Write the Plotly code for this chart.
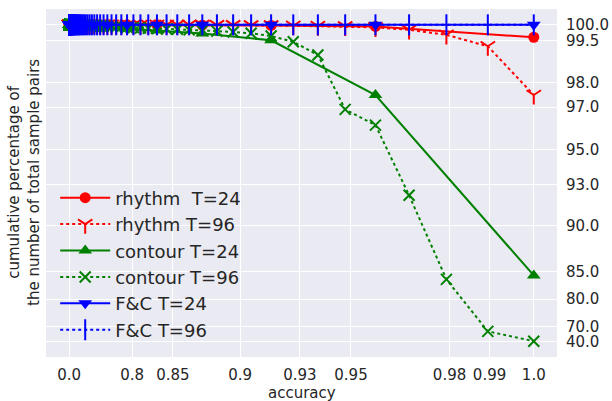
import numpy as np
import plotly.graph_objects as go

# ---------------- data ----------------
T_SHORT = 24
T_LONG = 96
acc_t24 = [k / T_SHORT for k in range(T_SHORT + 1)]
acc_t96 = [k / T_LONG for k in range(T_LONG + 1)]

rhythm_t24 = [100.0, 100.0, 100.0, 100.0, 100.0, 100.0, 100.0, 100.0, 100.0, 100.0,
              100.0, 100.0, 100.0, 100.0, 100.0, 100.0, 100.0, 100.0, 100.0, 100.0,
              100.0, 99.99, 99.98, 99.95, 99.6]

contour_t24 = [100.0, 100.0, 100.0, 100.0, 100.0, 100.0, 100.0, 100.0, 100.0, 100.0,
               100.0, 100.0, 100.0, 100.0, 100.0, 100.0, 99.98, 99.95, 99.92, 99.88,
               99.82, 99.72, 99.5, 97.5, 84.4]

fc_t24 = [100.0, 100.0, 100.0, 100.0, 100.0, 100.0, 100.0, 100.0, 100.0, 100.0,
          100.0, 100.0, 100.0, 100.0, 100.0, 100.0, 100.0, 100.0, 100.0, 100.0,
          100.0, 100.0, 100.0, 100.0, 100.0]

rhythm_t96 = [100.0, 100.0, 100.0, 100.0, 100.0, 100.0, 100.0, 100.0, 100.0, 100.0,
              100.0, 100.0, 100.0, 100.0, 100.0, 100.0, 100.0, 100.0, 100.0, 100.0,
              100.0, 100.0, 100.0, 100.0, 100.0, 100.0, 100.0, 100.0, 100.0, 100.0,
              100.0, 100.0, 100.0, 100.0, 100.0, 100.0, 100.0, 100.0, 100.0, 100.0,
              100.0, 100.0, 100.0, 100.0, 100.0, 100.0, 100.0, 100.0, 100.0, 100.0,
              100.0, 100.0, 100.0, 100.0, 100.0, 100.0, 100.0, 100.0, 100.0, 100.0,
              100.0, 100.0, 100.0, 100.0, 100.0, 100.0, 100.0, 100.0, 100.0, 100.0,
              100.0, 100.0, 100.0, 100.0, 100.0, 100.0, 100.0, 100.0, 100.0, 100.0,
              100.0, 100.0, 100.0, 100.0, 100.0, 99.99, 99.99, 99.98, 99.98, 99.97,
              99.96, 99.95, 99.92, 99.84, 99.68, 99.3, 97.5]

contour_t96 = [100.0, 100.0, 100.0, 100.0, 100.0, 100.0, 100.0, 100.0, 100.0, 100.0,
               100.0, 100.0, 100.0, 100.0, 100.0, 100.0, 100.0, 100.0, 100.0, 100.0,
               100.0, 100.0, 100.0, 100.0, 100.0, 100.0, 100.0, 100.0, 100.0, 100.0,
               100.0, 100.0, 100.0, 100.0, 100.0, 100.0, 100.0, 100.0, 100.0, 100.0,
               100.0, 100.0, 100.0, 100.0, 100.0, 100.0, 100.0, 100.0, 100.0, 100.0,
               100.0, 100.0, 100.0, 100.0, 100.0, 100.0, 100.0, 100.0, 100.0, 100.0,
               100.0, 100.0, 99.99, 99.99, 99.99, 99.98, 99.98, 99.98, 99.97, 99.97,
               99.96, 99.96, 99.95, 99.95, 99.94, 99.93, 99.92, 99.91, 99.9, 99.89,
               99.88, 99.87, 99.86, 99.84, 99.82, 99.8, 99.77, 99.73, 99.64, 99.45,
               99.0, 96.9, 96.2, 92.3, 83.8, 66.2, 42.0]

fc_t96 = [100.0, 100.0, 100.0, 100.0, 100.0, 100.0, 100.0, 100.0, 100.0, 100.0,
          100.0, 100.0, 100.0, 100.0, 100.0, 100.0, 100.0, 100.0, 100.0, 100.0,
          100.0, 100.0, 100.0, 100.0, 100.0, 100.0, 100.0, 100.0, 100.0, 100.0,
          100.0, 100.0, 100.0, 100.0, 100.0, 100.0, 100.0, 100.0, 100.0, 100.0,
          100.0, 100.0, 100.0, 100.0, 100.0, 100.0, 100.0, 100.0, 100.0, 100.0,
          100.0, 100.0, 100.0, 100.0, 100.0, 100.0, 100.0, 100.0, 100.0, 100.0,
          100.0, 100.0, 100.0, 100.0, 100.0, 100.0, 100.0, 100.0, 100.0, 100.0,
          100.0, 100.0, 100.0, 100.0, 100.0, 100.0, 100.0, 100.0, 100.0, 100.0,
          100.0, 100.0, 100.0, 100.0, 100.0, 100.0, 100.0, 100.0, 100.0, 100.0,
          100.0, 100.0, 100.0, 100.0, 100.0, 100.0, 100.0]

x_ticks = [0.0, 0.8, 0.85, 0.9, 0.93, 0.95, 0.98, 0.99, 1.0]
x_tick_labels = ["0.0", "0.8", "0.85", "0.9", "0.93", "0.95", "0.98", "0.99", "1.0"]
y_ticks = [100.0, 99.5, 98.0, 97.0, 95.0, 93.0, 90.0, 85.0, 80.0, 70.0, 40.0]
y_tick_labels = ["100.0", "99.5", "98.0", "97.0", "95.0", "93.0", "90.0", "85.0", "80.0", "70.0", "40.0"]


# --------- axis scale functions (exponential "function" scales) ---------
def fx(v):
    return np.exp(10.0 * np.asarray(v, dtype=float))


def fy(v):
    return np.exp(np.asarray(v, dtype=float) / 10.0)


def padded(lo, hi, frac=0.05):
    span = hi - lo
    return [lo - frac * span, hi + frac * span]


RED, GREEN, BLUE = "#FF0000", "#008000", "#0000FF"
TEXT = "#262626"
FONT = "DejaVu Sans"

series = [
    ("rhythm  T=24", acc_t24, rhythm_t24, RED, "solid",
     dict(symbol="circle", size=11, color=RED)),
    ("rhythm T=96", acc_t96, rhythm_t96, RED, "dot",
     dict(symbol="y-down-open", size=12, color=RED, line=dict(color=RED, width=2))),
    ("contour T=24", acc_t24, contour_t24, GREEN, "solid",
     dict(symbol="triangle-up", size=12, color=GREEN)),
    ("contour T=96", acc_t96, contour_t96, GREEN, "dot",
     dict(symbol="x-thin-open", size=11, color=GREEN, line=dict(color=GREEN, width=2))),
    ("F&C T=24", acc_t24, fc_t24, BLUE, "solid",
     dict(symbol="triangle-down", size=12, color=BLUE)),
    ("F&C T=96", acc_t96, fc_t96, BLUE, "dot",
     dict(symbol="line-ns-open", size=15, color=BLUE, line=dict(color=BLUE, width=2))),
]

fig = go.Figure()
for i, (name, xs, ys, col, dash, mk) in enumerate(series):
    fig.add_trace(go.Scatter(
        x=fx(xs), y=fy(ys), mode="lines+markers", name=name,
        line=dict(color=col, width=2, dash=dash), marker=mk,
        legendgroup=f"g{i}", cliponaxis=False,
    ))

all_x = np.concatenate([fx(acc_t24), fx(acc_t96)])
all_y = np.concatenate([fy(v) for v in (rhythm_t24, contour_t24, fc_t24,
                                        rhythm_t96, contour_t96, fc_t96)])

fig.update_layout(
    width=612, height=401,
    margin=dict(l=46, r=55, t=9, b=44, autoexpand=False),
    paper_bgcolor="white", plot_bgcolor="#EAEAF2",
    font=dict(family=FONT, color=TEXT, size=15),
    showlegend=True,
    legend=dict(x=0.018, y=0.51, xanchor="left", yanchor="top",
                bgcolor="rgba(0,0,0,0)", font=dict(size=18, color=TEXT),
                traceorder="grouped", tracegroupgap=0, itemwidth=50),
    xaxis=dict(
        range=padded(all_x.min(), all_x.max()), automargin=False,
        tickmode="array", tickvals=list(fx(x_ticks)), ticktext=x_tick_labels,
        showgrid=True, gridcolor="white", gridwidth=1.2, zeroline=False,
        ticks="", ticklen=0, ticklabelstandoff=7, showline=False,
        tickfont=dict(size=15),
    ),
    yaxis=dict(
        range=padded(all_y.min(), all_y.max()), automargin=False,
        side="right",
        tickmode="array", tickvals=list(fy(y_ticks)), ticktext=y_tick_labels,
        showgrid=True, gridcolor="white", gridwidth=1.2, zeroline=False,
        ticks="", ticklen=0, ticklabelstandoff=8, showline=False,
        tickfont=dict(size=15),
    ),
    annotations=[
        dict(text="cumulative percentage of<br>the number of total sample pairs",
             xref="paper", yref="paper", x=0, y=0.5, xanchor="right", yanchor="middle",
             xshift=-1, textangle=-90, showarrow=False,
             font=dict(size=15, color=TEXT)),
        dict(text="accuracy", xref="paper", yref="paper", x=0.5, y=0,
             xanchor="center", yanchor="middle", yshift=-36, showarrow=False,
             font=dict(size=15, color=TEXT)),
    ],
)

fig.write_html("out.html", config={"displayModeBar": False},
               post_script="document.body.style.margin='0';document.body.style.padding='0';")
